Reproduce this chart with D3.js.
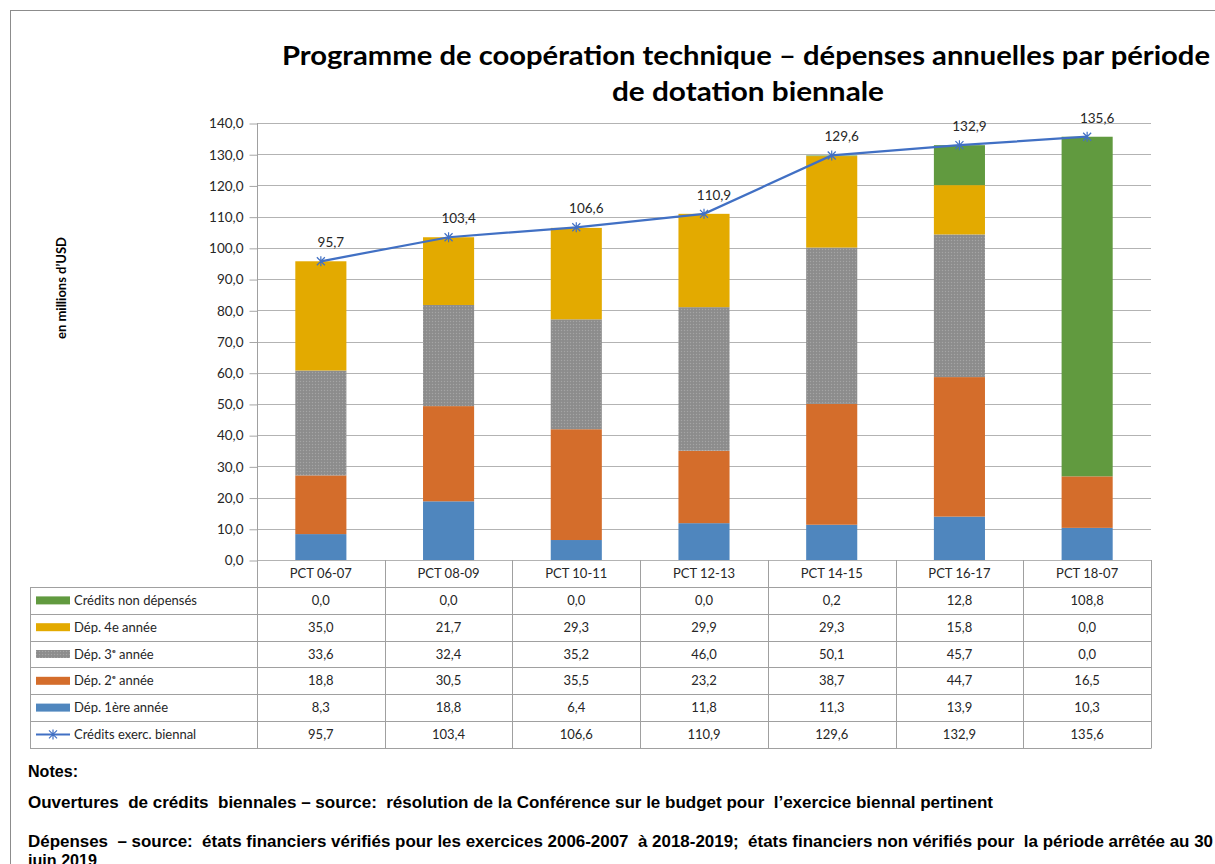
<!DOCTYPE html>
<html>
<head>
<meta charset="utf-8">
<script src="https://cdn.jsdelivr.net/npm/d3@7"></script>
<style>
  body { margin: 0; background: #fff; }
  svg { display: block; }
  text { font-family: Lato, "Noto Sans", sans-serif; fill: #262626; }
  text.note { font-family: "Liberation Sans", Arial, sans-serif; font-weight: bold; font-size: 16px; fill: #000; white-space: pre; }
</style>
</head>
<body>
<div id="chart"></div>
<script>
const categories = ['PCT 06-07', 'PCT 08-09', 'PCT 10-11', 'PCT 12-13', 'PCT 14-15', 'PCT 16-17', 'PCT 18-07'];
const unspent = [0.0, 0.0, 0.0, 0.0, 0.2, 12.8, 108.8];
const year4 = [35.0, 21.7, 29.3, 29.9, 29.3, 15.8, 0.0];
const year3 = [33.6, 32.4, 35.2, 46.0, 50.1, 45.7, 0.0];
const year2 = [18.8, 30.5, 35.5, 23.2, 38.7, 44.7, 16.5];
const year1 = [8.3, 18.8, 6.4, 11.8, 11.3, 13.9, 10.3];
const credits = [95.7, 103.4, 106.6, 110.9, 129.6, 132.9, 135.6];
const yTicks = [0, 10, 20, 30, 40, 50, 60, 70, 80, 90, 100, 110, 120, 130, 140];

const seriesNames = {
	year1: 'Dép. 1ère année',
	year2: 'Dép. 2ᵉ année',
	year3: 'Dép. 3ᵉ année',
	year4: 'Dép. 4e année',
	unspent: 'Crédits non dépensés',
	credits: 'Crédits exerc. biennal',
};

const colors = {
	year1: '#4f86be',
	year2: '#d46d2b',
	year3: 'url(#gray-dots)',
	year4: '#e3aa00',
	unspent: '#619a3f',
	credits: '#4170c4',
};

const fmt = (d) => d.toFixed(1).replace('.', ',');

const width = 1215;
const height = 864;
const plot = { left: 257, right: 1151, top: 123, bottom: 560 };
const tableLeft = 30;
const headerH = 27;
const rowH = 26.8;

const svg = d3
	.select('#chart')
	.append('svg')
	.attr('width', width)
	.attr('height', height)
	.attr('viewBox', `0 0 ${width} ${height}`);

// dotted texture for the 3rd-year series
const pat = svg
	.append('defs')
	.append('pattern')
	.attr('id', 'gray-dots')
	.attr('patternUnits', 'userSpaceOnUse')
	.attr('width', 3)
	.attr('height', 3);
pat.append('rect').attr('width', 3).attr('height', 3).attr('fill', '#8f8f8f');
pat.append('rect').attr('width', 1).attr('height', 1).attr('fill', '#a5a5a5');
pat.append('rect').attr('x', 1.5).attr('y', 1.5).attr('width', 1).attr('height', 1).attr('fill', '#848484');

// outer frame
svg
	.append('rect')
	.attr('x', 10.5)
	.attr('y', 10.5)
	.attr('width', 1300)
	.attr('height', 1000)
	.attr('fill', 'none')
	.attr('stroke', '#8c8c8c');

// title
const title = svg
	.append('g')
	.style('font-size', '27px')
	.style('font-weight', 'bold');
title
	.append('text')
	.attr('x', 282)
	.attr('y', 65)
	.attr('textLength', 928)
	.attr('lengthAdjust', 'spacingAndGlyphs')
	.style('fill', '#000')
	.text('Programme de coopération technique – dépenses annuelles par période');
title
	.append('text')
	.attr('x', 612)
	.attr('y', 101)
	.attr('textLength', 272)
	.attr('lengthAdjust', 'spacingAndGlyphs')
	.style('fill', '#000')
	.text('de dotation biennale');

// y axis title
svg
	.append('text')
	.attr('transform', 'translate(66,288) rotate(-90)')
	.attr('text-anchor', 'middle')
	.style('font-size', '13px')
	.style('font-weight', 'bold')
	.style('fill', '#000')
	.text('en millions d’USD');

const x = d3.scaleBand().domain(categories).range([plot.left, plot.right]).padding(0);
const y = d3.scaleLinear().domain([0, 140]).range([plot.bottom, plot.top]);

// gridlines
svg
	.append('g')
	.selectAll('line')
	.data(yTicks)
	.enter()
	.append('line')
	.attr('x1', plot.left)
	.attr('x2', plot.right)
	.attr('y1', (d) => Math.round(y(d)) + 0.5)
	.attr('y2', (d) => Math.round(y(d)) + 0.5)
	.attr('stroke', '#b3b3b3');

// y axis
const yAxis = d3.axisLeft(y).tickValues(yTicks).tickFormat(fmt).tickSize(8).tickPadding(6);
const yg = svg.append('g').attr('transform', `translate(${plot.left + 0.5},0.5)`).call(yAxis);
yg.select('.domain').remove();
yg.selectAll('.tick line').attr('stroke', '#a6a6a6');
yg.selectAll('.tick text').style('font-size', '13.5px').style('font-family', 'Lato, sans-serif').attr('fill', '#262626');

// stacked bars
const rows = categories.map((c, i) => ({
	cat: c,
	year1: year1[i],
	year2: year2[i],
	year3: year3[i],
	year4: year4[i],
	unspent: unspent[i],
}));
const keys = ['year1', 'year2', 'year3', 'year4', 'unspent'];
const stacked = d3.stack().keys(keys)(rows);
const barW = x.bandwidth() * 0.4;

svg
	.append('g')
	.selectAll('g')
	.data(stacked)
	.enter()
	.append('g')
	.attr('fill', (s) => colors[s.key])
	.selectAll('rect')
	.data((s) => s)
	.enter()
	.append('rect')
	.attr('x', (d) => x(d.data.cat) + (x.bandwidth() - barW) / 2)
	.attr('y', (d) => y(d[1]))
	.attr('width', barW)
	.attr('height', (d) => y(d[0]) - y(d[1]));

// credits line
const cx = (c) => x(c) + x.bandwidth() / 2;
const line = d3
	.line()
	.x((d, i) => cx(categories[i]))
	.y((d) => y(d));

svg
	.append('path')
	.datum(credits)
	.attr('d', line)
	.attr('fill', 'none')
	.attr('stroke', colors.credits)
	.attr('stroke-width', 2.25);

const star = 'M-4,-4L4,4M-4,4L4,-4M0,-5L0,5';
svg
	.append('g')
	.selectAll('path')
	.data(credits)
	.enter()
	.append('path')
	.attr('transform', (d, i) => `translate(${cx(categories[i])},${y(d)})`)
	.attr('d', star)
	.attr('stroke', colors.credits)
	.attr('stroke-width', 1.2)
	.attr('fill', 'none');

svg
	.append('g')
	.selectAll('text')
	.data(credits)
	.enter()
	.append('text')
	.attr('x', (d, i) => cx(categories[i]) + 10)
	.attr('y', (d) => y(d) - 14)
	.attr('text-anchor', 'middle')
	.style('font-size', '13.5px')
	.text(fmt);

// data table
const tableRows = [
	{ key: 'unspent', values: unspent },
	{ key: 'year4', values: year4 },
	{ key: 'year3', values: year3 },
	{ key: 'year2', values: year2 },
	{ key: 'year1', values: year1 },
	{ key: 'credits', values: credits },
];
const tableTop = plot.bottom + headerH;
const tableBottom = tableTop + rowH * tableRows.length;
const tg = svg.append('g');
const tableStroke = '#a0a0a0';

// header labels
tg.selectAll('text.head')
	.data(categories)
	.enter()
	.append('text')
	.attr('class', 'head')
	.attr('x', (c) => cx(c))
	.attr('y', plot.bottom + headerH / 2 + 4.5)
	.attr('text-anchor', 'middle')
	.style('font-size', '13px')
	.text((c) => c);

// horizontal lines
tg.selectAll('line.h')
	.data(d3.range(tableRows.length + 1))
	.enter()
	.append('line')
	.attr('x1', tableLeft)
	.attr('x2', plot.right)
	.attr('y1', (i) => Math.round(tableTop + i * rowH) + 0.5)
	.attr('y2', (i) => Math.round(tableTop + i * rowH) + 0.5)
	.attr('stroke', tableStroke);

// vertical lines
const vx = categories.map((c) => x(c)).concat([plot.right]);
tg.selectAll('line.v')
	.data(vx)
	.enter()
	.append('line')
	.attr('x1', (d) => Math.round(d) + 0.5)
	.attr('x2', (d) => Math.round(d) + 0.5)
	.attr('y1', (d, i) => (i === 0 ? plot.top : plot.bottom))
	.attr('y2', Math.round(tableBottom) + 0.5)
	.attr('stroke', tableStroke);
tg.append('line')
	.attr('x1', tableLeft + 0.5)
	.attr('x2', tableLeft + 0.5)
	.attr('y1', Math.round(tableTop) + 0.5)
	.attr('y2', Math.round(tableBottom) + 0.5)
	.attr('stroke', tableStroke);

const rowG = tg
	.selectAll('g.row')
	.data(tableRows)
	.enter()
	.append('g')
	.attr('transform', (r, i) => `translate(0,${tableTop + i * rowH + rowH / 2})`);

rowG.each(function (r) {
	const g = d3.select(this);
	if (r.key === 'credits') {
		g.append('line')
			.attr('x1', 36)
			.attr('x2', 70)
			.attr('y1', 0)
			.attr('y2', 0)
			.attr('stroke', colors.credits)
			.attr('stroke-width', 2);
		g.append('path')
			.attr('transform', 'translate(53,0)')
			.attr('d', star)
			.attr('stroke', colors.credits)
			.attr('stroke-width', 1.2);
	} else {
		g.append('rect')
			.attr('x', 36)
			.attr('y', -4)
			.attr('width', 34)
			.attr('height', 8)
			.attr('fill', colors[r.key]);
	}
	g.append('text')
		.attr('x', 74)
		.attr('y', 4.5)
		.style('font-size', '13px')
		.text(seriesNames[r.key]);
	g.selectAll('text.val')
		.data(r.values)
		.enter()
		.append('text')
		.attr('class', 'val')
		.attr('x', (d, i) => cx(categories[i]))
		.attr('y', 4.5)
		.attr('text-anchor', 'middle')
		.style('font-size', '13px')
		.text(fmt);
});

// notes
const notes = svg.append('g');
notes
	.append('text')
	.attr('class', 'note')
	.attr('x', 28)
	.attr('y', 777)
	.attr('textLength', 50)
	.attr('lengthAdjust', 'spacingAndGlyphs')
	.text('Notes:');
notes
	.append('text')
	.attr('class', 'note')
	.attr('x', 28)
	.attr('y', 808)
	.attr('textLength', 965)
	.attr('lengthAdjust', 'spacingAndGlyphs')
	.text('Ouvertures  de crédits  biennales – source:  résolution de la Conférence sur le budget pour  l’exercice biennal pertinent');
notes
	.append('text')
	.attr('class', 'note')
	.attr('x', 28)
	.attr('y', 847)
	.attr('textLength', 1185)
	.attr('lengthAdjust', 'spacingAndGlyphs')
	.text('Dépenses  – source:  états financiers vérifiés pour les exercices 2006-2007  à 2018-2019;  états financiers non vérifiés pour  la période arrêtée au 30');
notes
	.append('text')
	.attr('class', 'note')
	.attr('x', 28)
	.attr('y', 866)
	.attr('textLength', 69)
	.attr('lengthAdjust', 'spacingAndGlyphs')
	.text('juin 2019');
</script>
</body>
</html>
